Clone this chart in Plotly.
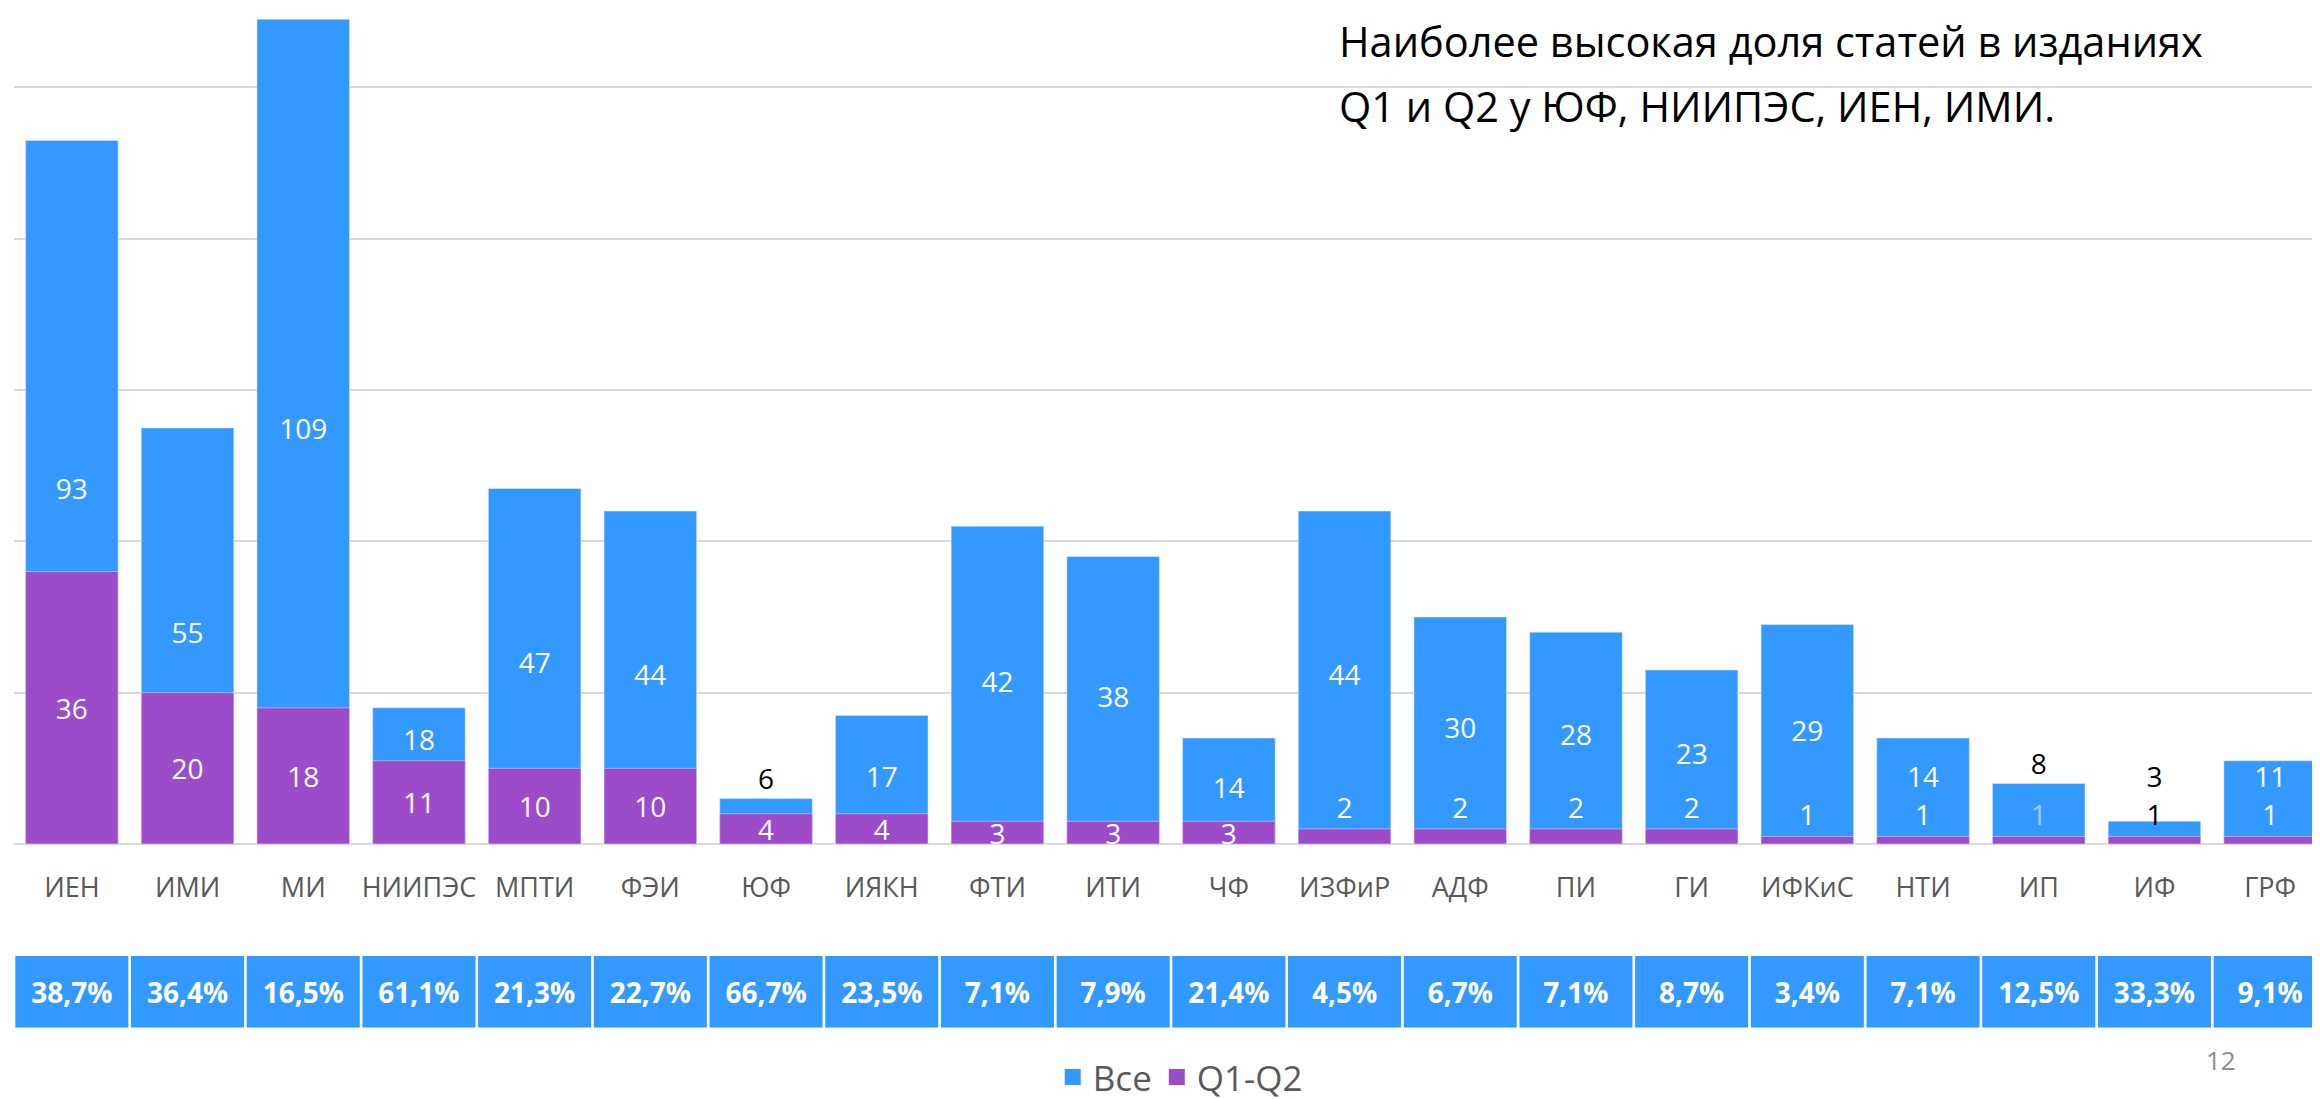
import plotly.graph_objects as go

# ---------------- data ----------------
categories = ["ИЕН", "ИМИ", "МИ", "НИИПЭС", "МПТИ", "ФЭИ", "ЮФ", "ИЯКН", "ФТИ", "ИТИ",
              "ЧФ", "ИЗФиР", "АДФ", "ПИ", "ГИ", "ИФКиС", "НТИ", "ИП", "ИФ", "ГРФ"]
total_all = [93, 55, 109, 18, 47, 44, 6, 17, 42, 38, 14, 44, 30, 28, 23, 29, 14, 8, 3, 11]
total_q1q2 = [36, 20, 18, 11, 10, 10, 4, 4, 3, 3, 3, 2, 2, 2, 2, 1, 1, 1, 1, 1]
series_names = ["Все", "Q1-Q2"]
title_lines = ["Наиболее высокая доля статей в изданиях", "Q1 и Q2 у ЮФ, НИИПЭС, ИЕН, ИМИ."]
page_number = "12"

# share of Q1-Q2 in all articles, formatted like the source (comma decimal)
share_labels = [f"{q / t * 100:.1f}%".replace(".", ",") for q, t in zip(total_q1q2, total_all)]

# ---------------- styles ----------------
BLUE = "#3399FF"
PURPLE = "#9D4CC9"
GRID = "#D9D9D9"
LABEL_GRAY = "#595959"
FONT = "Open Sans"

W, H = 2320, 1099
ML, MR = 6, 0
base_px = 846          # pixel y of the zero line
box_top, box_bot = 959, 1032

def py(px):
    return 1 - px / H

def px_x(px):
    return (px - ML) / (W - ML - MR)

# label placement for the "Все" values (kept clear of the Q1-Q2 labels)
all_label_y = []
all_col = []
for t, q in zip(total_all, total_q1q2):
    floor = q + 2.3 if q > 2 else q + 7.5
    if t >= 10:
        all_label_y.append(max(t / 2, floor))
        all_col.append("white")
    else:
        all_label_y.append(max(t + 2.2, floor))
        all_col.append("black")

q_pos = ["outside" if q <= 2 else "inside" for q in total_q1q2]
q_col = []
for q, t in zip(total_q1q2, total_all):
    if q <= 2 and t <= 3:
        q_col.append("black")
    elif q <= 2 and t < 10:
        q_col.append("rgba(255,255,255,0.55)")
    else:
        q_col.append("white")

n = len(categories)
fig = go.Figure()

fig.add_trace(go.Bar(
    x=categories, y=total_all, name=series_names[0], marker_color=BLUE,
    showlegend=False, xaxis="x", yaxis="y",
))
fig.add_trace(go.Bar(
    x=categories, y=total_q1q2, name=series_names[1], marker_color=PURPLE,
    text=[str(v) for v in total_q1q2], textposition=q_pos, textangle=0,
    insidetextanchor="middle", textfont=dict(family=FONT, size=28, color=q_col),
    showlegend=False, cliponaxis=False, xaxis="x", yaxis="y",
))
fig.add_trace(go.Scatter(
    x=categories, y=all_label_y, mode="text", text=[str(v) for v in total_all],
    textposition="middle center", textfont=dict(family=FONT, size=28, color=all_col),
    showlegend=False, hoverinfo="skip", cliponaxis=False, xaxis="x", yaxis="y",
))

# percentage row
fig.add_trace(go.Bar(
    x=categories, y=[1] * n, width=0.977, marker_color=BLUE,
    marker_line_width=0,
    text=share_labels, textposition="inside", insidetextanchor="middle", textangle=0,
    textfont=dict(family=FONT, size=28, color="white", weight="bold"),
    showlegend=False, hoverinfo="skip", xaxis="x2", yaxis="y2",
))

# legend entries
for name, col in zip(series_names, [BLUE, PURPLE]):
    fig.add_trace(go.Scatter(
        x=[None], y=[None], mode="markers", name=name,
        marker=dict(symbol="square", size=24, color=col), xaxis="x", yaxis="y",
    ))

fig.update_layout(
    width=W, height=H,
    margin=dict(l=ML, r=MR, t=0, b=0),
    paper_bgcolor="white", plot_bgcolor="white",
    barmode="overlay", bargap=0.2,
    uniformtext=dict(minsize=28, mode="show"),
    xaxis=dict(domain=[0, 1], anchor="y", range=[-0.5, n - 0.5], autorange=False,
               showgrid=False, showline=False, zeroline=False,
               ticks="outside", ticklen=20, tickcolor="rgba(0,0,0,0)",
               tickfont=dict(family=FONT, size=27, color=LABEL_GRAY)),
    yaxis=dict(domain=[py(base_px), 1], range=[0, 110.5], dtick=20, showgrid=True,
               gridcolor=GRID, gridwidth=2, zeroline=True, zerolinecolor=GRID,
               zerolinewidth=2, showticklabels=False, ticks=""),
    xaxis2=dict(domain=[0, 1], anchor="y2", matches="x", showticklabels=False,
                showgrid=False, zeroline=False, showline=False),
    yaxis2=dict(domain=[py(box_bot), py(box_top)], range=[0, 1], showticklabels=False,
                showgrid=False, zeroline=False, showline=False),
    legend=dict(orientation="h", x=0.504, xanchor="center", y=py(1082), yanchor="middle",
                font=dict(family=FONT, size=35, color=LABEL_GRAY), bgcolor="rgba(0,0,0,0)",
                itemsizing="trace"),
    font=dict(family=FONT),
)

for line, ypx in zip(title_lines, [33, 99]):
    fig.add_annotation(text=line, xref="paper", yref="paper", x=px_x(1329),
                       y=py(ypx), xanchor="left", yanchor="middle", showarrow=False,
                       font=dict(family=FONT, size=41.5, color="black"))
fig.add_annotation(text=page_number, xref="paper", yref="paper", x=px_x(2213),
                   y=py(1065), xanchor="center", yanchor="middle", showarrow=False,
                   font=dict(family=FONT, size=26, color="#8C8C8C"))

fig.write_html("out.html")
